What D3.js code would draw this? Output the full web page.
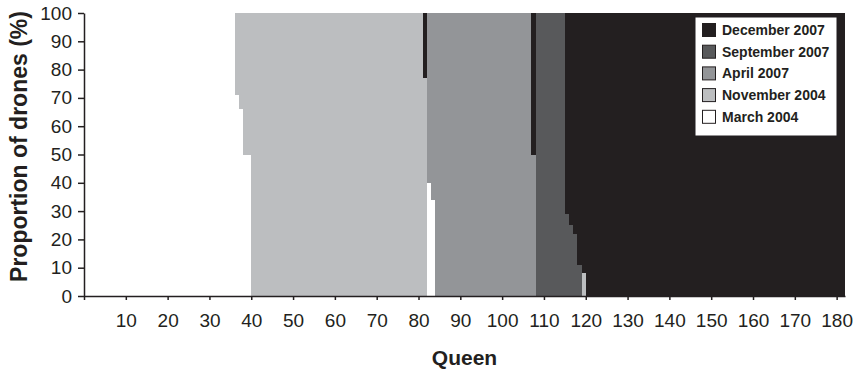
<!DOCTYPE html>
<html>
<head>
<meta charset="utf-8">
<script src="https://cdn.jsdelivr.net/npm/d3@7"></script>
<style>
  body { margin: 0; background: #fff; }
  svg { display: block; font-family: Arial, "Liberation Sans", sans-serif; }
  .axis path, .axis line { stroke: #231f20; stroke-width: 1.5px; }
  .axis text { fill: #231f20; font-size: 19px; }
  .title { fill: #231f20; font-weight: bold; font-size: 21px; }
  .legend text { fill: #231f20; font-weight: bold; font-size: 14px; }
</style>
</head>
<body>
<svg width="855" height="372"></svg>
<script>

// proportion of drones (%) per queen, one array per sampling date, queens 1..182
var march2004 = [
  100,100,100,100,100,100,100,100,100,100,100,100,100,100,100,100,100,100,100,100,
  100,100,100,100,100,100,100,100,100,100,100,100,100,100,100,100,71,66,50,50,
  0,0,0,0,0,0,0,0,0,0,0,0,0,0,0,0,0,0,0,0,
  0,0,0,0,0,0,0,0,0,0,0,0,0,0,0,0,0,0,0,0,
  0,0,40,34,0,0,0,0,0,0,0,0,0,0,0,0,0,0,0,0,
  0,0,0,0,0,0,0,0,0,0,0,0,0,0,0,0,0,0,0,0,
  0,0,0,0,0,0,0,0,0,0,0,0,0,0,0,0,0,0,0,0,
  0,0,0,0,0,0,0,0,0,0,0,0,0,0,0,0,0,0,0,0,
  0,0,0,0,0,0,0,0,0,0,0,0,0,0,0,0,0,0,0,0,
  0,0
];
var november2004 = [
  0,0,0,0,0,0,0,0,0,0,0,0,0,0,0,0,0,0,0,0,
  0,0,0,0,0,0,0,0,0,0,0,0,0,0,0,0,29,34,50,50,
  100,100,100,100,100,100,100,100,100,100,100,100,100,100,100,100,100,100,100,100,
  100,100,100,100,100,100,100,100,100,100,100,100,100,100,100,100,100,100,100,100,
  100,77,0,0,0,0,0,0,0,0,0,0,0,0,0,0,0,0,0,0,
  0,0,0,0,0,0,0,0,0,0,0,0,0,0,0,0,0,0,0,8,
  0,0,0,0,0,0,0,0,0,0,0,0,0,0,0,0,0,0,0,0,
  0,0,0,0,0,0,0,0,0,0,0,0,0,0,0,0,0,0,0,0,
  0,0,0,0,0,0,0,0,0,0,0,0,0,0,0,0,0,0,0,0,
  0,0
];
var april2007 = [
  0,0,0,0,0,0,0,0,0,0,0,0,0,0,0,0,0,0,0,0,
  0,0,0,0,0,0,0,0,0,0,0,0,0,0,0,0,0,0,0,0,
  0,0,0,0,0,0,0,0,0,0,0,0,0,0,0,0,0,0,0,0,
  0,0,0,0,0,0,0,0,0,0,0,0,0,0,0,0,0,0,0,0,
  0,0,60,66,100,100,100,100,100,100,100,100,100,100,100,100,100,100,100,100,
  100,100,100,100,100,100,100,50,0,0,0,0,0,0,0,0,0,0,0,0,
  0,0,0,0,0,0,0,0,0,0,0,0,0,0,0,0,0,0,0,0,
  0,0,0,0,0,0,0,0,0,0,0,0,0,0,0,0,0,0,0,0,
  0,0,0,0,0,0,0,0,0,0,0,0,0,0,0,0,0,0,0,0,
  0,0
];
var september2007 = [
  0,0,0,0,0,0,0,0,0,0,0,0,0,0,0,0,0,0,0,0,
  0,0,0,0,0,0,0,0,0,0,0,0,0,0,0,0,0,0,0,0,
  0,0,0,0,0,0,0,0,0,0,0,0,0,0,0,0,0,0,0,0,
  0,0,0,0,0,0,0,0,0,0,0,0,0,0,0,0,0,0,0,0,
  0,0,0,0,0,0,0,0,0,0,0,0,0,0,0,0,0,0,0,0,
  0,0,0,0,0,0,0,0,100,100,100,100,100,100,100,29,25,22,11,0,
  0,0,0,0,0,0,0,0,0,0,0,0,0,0,0,0,0,0,0,0,
  0,0,0,0,0,0,0,0,0,0,0,0,0,0,0,0,0,0,0,0,
  0,0,0,0,0,0,0,0,0,0,0,0,0,0,0,0,0,0,0,0,
  0,0
];
var december2007 = [
  0,0,0,0,0,0,0,0,0,0,0,0,0,0,0,0,0,0,0,0,
  0,0,0,0,0,0,0,0,0,0,0,0,0,0,0,0,0,0,0,0,
  0,0,0,0,0,0,0,0,0,0,0,0,0,0,0,0,0,0,0,0,
  0,0,0,0,0,0,0,0,0,0,0,0,0,0,0,0,0,0,0,0,
  0,23,0,0,0,0,0,0,0,0,0,0,0,0,0,0,0,0,0,0,
  0,0,0,0,0,0,0,50,0,0,0,0,0,0,0,71,75,78,89,92,
  100,100,100,100,100,100,100,100,100,100,100,100,100,100,100,100,100,100,100,100,
  100,100,100,100,100,100,100,100,100,100,100,100,100,100,100,100,100,100,100,100,
  100,100,100,100,100,100,100,100,100,100,100,100,100,100,100,100,100,100,100,100,
  100,100
];

// bottom to top, as stacked
var seriesNames = ["March 2004", "November 2004", "April 2007", "September 2007", "December 2007"];
var seriesValues = [march2004, november2004, april2007, september2007, december2007];
var seriesColors = ["#ffffff", "#bcbec0", "#939598", "#58595b", "#231f20"];

var xTicks = [0, 10, 20, 30, 40, 50, 60, 70, 80, 90, 100, 110, 120, 130, 140, 150, 160, 170, 180];
var yTicks = [0, 10, 20, 30, 40, 50, 60, 70, 80, 90, 100];

var svg = d3.select("svg"),
    margin = {top: 13, right: 10, bottom: 76, left: 84},
    width = +svg.attr("width") - margin.left - margin.right,
    height = +svg.attr("height") - margin.top - margin.bottom;

var nQueens = march2004.length;

// one row per queen for d3.stack
var rows = d3.range(nQueens).map(function(i) {
  var r = {queen: i + 1};
  seriesNames.forEach(function(name, k) { r[name] = seriesValues[k][i]; });
  return r;
});

var stacked = d3.stack().keys(seriesNames)(rows);

var x = d3.scaleLinear().domain([0, nQueens]).range([0, width]),
    y = d3.scaleLinear().domain([0, 100]).range([height, 0]);

var g = svg.append("g")
  .attr("transform", "translate(" + margin.left + "," + margin.top + ")");

g.selectAll(".layer")
  .data(stacked)
  .enter().append("g")
  .attr("class", "layer")
  .attr("fill", function(d, i) { return seriesColors[i]; })
  .selectAll("rect")
  .data(function(d) { return d.filter(function(p) { return p[1] - p[0] > 0; }); })
  .enter().append("rect")
  .attr("shape-rendering", "crispEdges")
  .attr("x", function(d) { return x(d.data.queen - 1); })
  .attr("width", function(d) { return x(d.data.queen) - x(d.data.queen - 1); })
  .attr("y", function(d) { return y(d[1]); })
  .attr("height", function(d) { return y(d[0]) - y(d[1]); });

g.append("g")
  .attr("class", "axis axis--x")
  .attr("transform", "translate(0," + height + ")")
  .call(d3.axisBottom(x).tickValues(xTicks).tickSize(4).tickSizeOuter(0).tickPadding(14)
    .tickFormat(function(d) { return d === 0 ? "" : d; }));

g.append("g")
  .attr("class", "axis axis--y")
  .call(d3.axisLeft(y).tickValues(yTicks).tickSize(6).tickSizeOuter(0).tickPadding(6));

g.append("text")
  .attr("class", "title")
  .attr("text-anchor", "middle")
  .attr("x", width / 2)
  .attr("y", height + 69)
  .text("Queen");

svg.append("text")
  .attr("class", "title")
  .attr("text-anchor", "middle")
  .attr("transform", "translate(27," + (margin.top + height / 2 - 8) + ")rotate(-90)")
  .style("font-size", "23px")
  .text("Proportion of drones (%)");

// legend, top entry is the top of the stack
var legend = svg.append("g")
  .attr("class", "legend")
  .attr("transform", "translate(695,17)");

legend.append("rect")
  .attr("width", 142)
  .attr("height", 119)
  .attr("fill", "#fff")
  .attr("stroke", "#231f20")
  .attr("stroke-width", 1);

var items = legend.selectAll(".item")
  .data(d3.range(seriesNames.length).reverse())
  .enter().append("g")
  .attr("class", "item")
  .attr("transform", function(d, i) { return "translate(7," + (13 + i * 21.7) + ")"; });

items.append("rect")
  .attr("x", 0.5)
  .attr("y", -6.5)
  .attr("width", 13)
  .attr("height", 13)
  .attr("fill", function(k) { return seriesColors[k]; })
  .attr("stroke", "#231f20")
  .attr("stroke-width", 1);

items.append("text")
  .attr("x", 20)
  .attr("dy", "0.36em")
  .text(function(k) { return seriesNames[k]; });

</script>
</body>
</html>
